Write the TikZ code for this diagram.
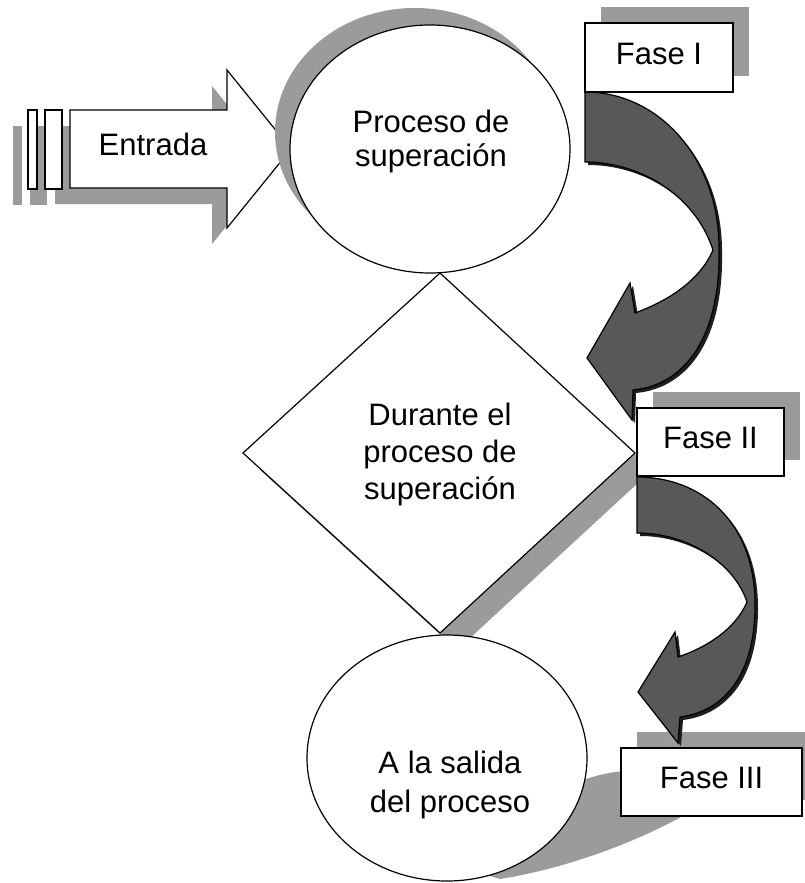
\documentclass[tikz,border=0pt]{standalone}
\usepackage{fontspec}
\setmainfont{Liberation Sans}
\usetikzlibrary{shapes.geometric}
\definecolor{shadowgray}{HTML}{9B9B9B}
\definecolor{arrowgray}{HTML}{585858}
\definecolor{arrowshadow}{HTML}{1E1E1E}
\newcommand\PathEntrada{(70,110) -- (227,110) -- (227,70) -- (291,149) -- (227,228) -- (227,188) -- (70,188) -- cycle}
\newcommand\PathRectA{(28,110) rectangle (37,189)}
\newcommand\PathRectB{(45,110) rectangle (62,189)}
\newcommand\PathCurvA{(585,92) .. controls (660,92) and (719,160) .. (719,248) .. controls (721,335) and (686,385) .. (633,390) -- (632,420) -- (587,358) -- (630,283) -- (635,313) .. controls (670,300) and (700,280) .. (713,250) .. controls (695,195) and (640,162) .. (585,162) -- cycle}
\newcommand\PathCurvB{(637,477) .. controls (700,477) and (755,520) .. (755,605) .. controls (755,680) and (720,712) .. (680,717) -- (678,743) -- (638,692) -- (675,632) -- (678,657) .. controls (705,648) and (735,630) .. (747,602) .. controls (735,565) and (690,533) .. (637,533) -- cycle}
\tikzset{
  outline/.style={draw=black, line width=1.2pt, line join=miter},
  shade/.style={fill=shadowgray},
  bigtext/.style={font=\fontsize{31}{37}\selectfont, inner sep=0pt},
  fasebox/.style={outline, fill=white, inner sep=0pt, text height=22pt, text depth=9pt,
    font=\fontsize{31}{37}\selectfont},
  curvarrow/.style={fill=arrowgray, draw=black, line width=1.2pt, line join=miter},
  ovalshape/.style={ellipse, outline, fill=white, inner sep=0pt, minimum width=280pt, minimum height=248pt}
}
\begin{document}
\begin{tikzpicture}[x=1pt,y=-1pt]
\useasboundingbox (0,0) rectangle (805,883);
\fill[white] (0,0) rectangle (805,883);
% Entrada arrow shadow
\begin{scope}
  \clip (0,0) rectangle (227,883);
  \fill[shade, shift={(-15,16)}] \PathEntrada;
  \fill[shade, shift={(-15,16)}] \PathRectA;
  \fill[shade, shift={(-15,16)}] \PathRectB;
\end{scope}
% Entrada arrow
\draw[outline, fill=white] \PathEntrada;
\draw[outline, fill=white] \PathRectA;
\draw[outline, fill=white] \PathRectB;
\node[bigtext, anchor=base] (entrada) at (153,155) {Entrada};
% circle 1
\fill[shade] (415,132) ellipse [x radius=140pt, y radius=124pt];
\node[ovalshape] (c1) at (430,149) {};
\node[bigtext, align=center, font=\fontsize{31}{34}\selectfont] (t1) at (431,141) {Proceso de\\superación};
% diamond
\coordinate (dtop) at (440,273);
\coordinate (dright) at (635,453);
\coordinate (dbot) at (440,633);
\coordinate (dleft) at (243,453);
\fill[shade] (457,290) -- (652,470) -- (457,650) -- (260,470) -- cycle;
\draw[outline, fill=white] (dtop) -- (dright) -- (dbot) -- (dleft) -- cycle;
\node[bigtext, align=center, font=\fontsize{31}{37}\selectfont] (t2) at (440,454) {Durante el\\proceso de\\superación};
% circle 3
\fill[shade] (560,790) -- (583,780) .. controls (598,775) and (610,772) .. (625,771) -- (690,771) -- (690,812) .. controls (650,835) and (580,866) .. (500,879) -- (470,870) -- cycle;
\node[ovalshape, minimum width=280pt, minimum height=246pt] (c3) at (447,758) {};
\node[bigtext, align=center, font=\fontsize{31}{39}\selectfont] (t3) at (450,785) {A la salida\\del proceso};
% box shadows
\fill[shade] (601,7) rectangle (749,76);
\fill[shade] (653,392) rectangle (800,460);
\fill[shade] (637,732) rectangle (818,800);
% curved arrows
\fill[arrowshadow, shift={(3,3)}] \PathCurvA;
\draw[curvarrow] \PathCurvA;
\fill[arrowshadow, shift={(3,3)}] \PathCurvB;
\draw[curvarrow] \PathCurvB;
% Fase boxes
\node[fasebox, minimum width=148pt, minimum height=69pt] (f1) at (659,57.5) {Fase I};
\node[fasebox, minimum width=147pt, minimum height=68pt] (f2) at (710.5,442) {Fase II};
\node[fasebox, minimum width=181pt, minimum height=68pt] (f3) at (711.5,782) {Fase III};
\end{tikzpicture}
\end{document}
